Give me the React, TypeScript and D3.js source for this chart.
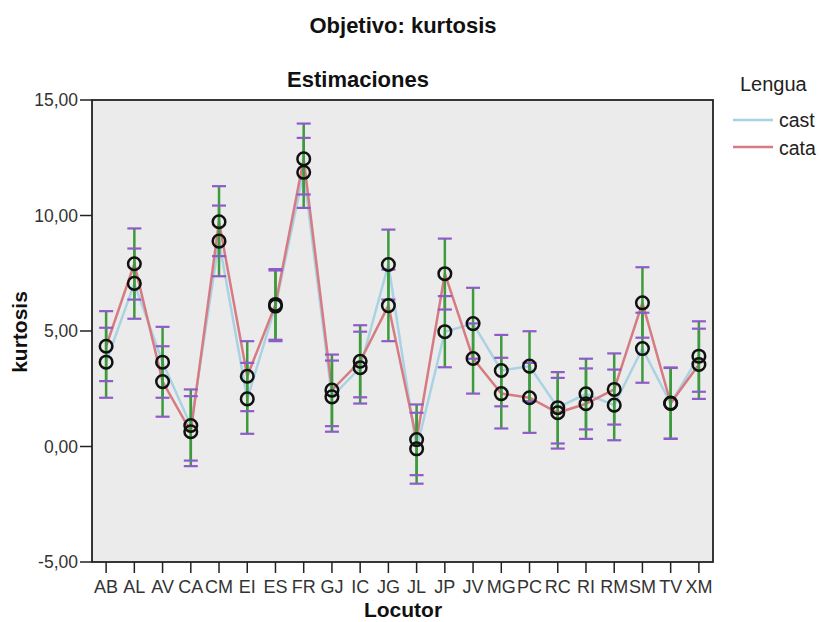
import React from "react";
import * as d3 from "d3";

const categories = ["AB","AL","AV","CA","CM","EI","ES","FR","GJ","IC","JG","JL","JP","JV","MG","PC","RC","RI","RM","SM","TV","XM"];

const castMean = [3.65, 7.06, 3.65, 0.91, 8.89, 2.06, 6.08, 11.87, 2.15, 3.41, 7.88, -0.10, 4.97, 5.32, 3.29, 3.48, 1.68, 2.28, 1.79, 4.24, 1.86, 3.91];
const castLow = [2.11, 5.53, 2.11, -0.61, 7.37, 0.55, 4.56, 10.33, 0.64, 1.86, 6.36, -1.61, 3.43, 3.80, 1.74, 1.96, 0.13, 0.74, 0.27, 2.76, 0.33, 2.37];
const castHigh = [5.14, 8.57, 5.18, 2.47, 10.43, 3.62, 7.62, 13.36, 3.72, 4.97, 9.39, 1.46, 6.51, 6.87, 4.83, 4.99, 3.22, 3.80, 3.33, 5.79, 3.40, 5.42];

const cataMean = [4.34, 7.91, 2.81, 0.64, 9.73, 3.04, 6.15, 12.45, 2.44, 3.69, 6.10, 0.30, 7.48, 3.81, 2.29, 2.11, 1.46, 1.85, 2.47, 6.22, 1.88, 3.55];
const cataLow = [2.83, 6.36, 1.29, -0.85, 8.24, 1.53, 4.62, 10.91, 0.88, 2.13, 4.56, -1.24, 5.93, 2.29, 0.78, 0.59, -0.09, 0.33, 0.95, 4.71, 0.34, 2.06];
const cataHigh = [5.86, 9.44, 4.34, 2.18, 11.27, 4.56, 7.68, 13.98, 3.98, 5.25, 7.66, 1.82, 9.00, 5.33, 3.84, 3.62, 2.97, 3.38, 4.03, 7.76, 3.42, 5.10];

const yTicks = [-5, 0, 5, 10, 15];
const seriesNames = ["cast", "cata"];
const seriesColors = ["#a9d2e4", "#d77b82"];

const FONT = "'Liberation Sans', Arial, sans-serif";

export default function App() {
  const left = 92, right = 713, top = 100, bottom = 562;
  const x = d3.scalePoint<string>().domain(categories).range([left, right]).padding(0.5);
  const y = d3.scaleLinear().domain([-5, 15]).range([bottom, top]);
  const fmt = (v: number) => d3.format(".2f")(v).replace(".", ",").replace("\u2212", "-");

  const series = [
    { name: seriesNames[0], color: seriesColors[0], mean: castMean, low: castLow, high: castHigh },
    { name: seriesNames[1], color: seriesColors[1], mean: cataMean, low: cataLow, high: cataHigh },
  ];

  const line = d3.line<number>()
    .x((_, i) => x(categories[i]) as number)
    .y((d) => y(d));

  const capW = 7;

  return (
    <div style={{ position: "absolute", left: 0, top: 0 }}>
      <svg width={821} height={622} style={{ display: "block", background: "#fff" }} fontFamily={FONT}>
        <text x={403} y={33} textAnchor="middle" fontWeight="bold" fontSize={22} fill="#111">Objetivo: kurtosis</text>
        <text x={358} y={87} textAnchor="middle" fontWeight="bold" fontSize={22} fill="#111">Estimaciones</text>

        <rect x={left} y={top} width={right - left} height={bottom - top} fill="#ebebeb" />

        {yTicks.map((t) => (
          <g key={t}>
            <line x1={left - 12} x2={left} y1={y(t)} y2={y(t)} stroke="#222" strokeWidth={1.5} />
            <text x={78} y={y(t) + 6} textAnchor="end" fontSize={17.5} fill="#333">{fmt(t)}</text>
          </g>
        ))}
        {categories.map((c) => (
          <g key={c}>
            <line x1={x(c)} x2={x(c)} y1={bottom} y2={bottom + 11} stroke="#222" strokeWidth={1.5} />
            <text x={x(c)} y={593} textAnchor="middle" fontSize={18} fill="#333">{c}</text>
          </g>
        ))}

        {series.map((s) => (
          <path key={s.name} d={line(s.mean) || ""} fill="none" stroke={s.color} strokeWidth={2.5} />
        ))}

        {series.map((s) => (
          <g key={s.name + "eb"}>
            {categories.map((c, i) => {
              const cx = x(c) as number;
              return (
                <line key={c} x1={cx} x2={cx} y1={y(s.low[i])} y2={y(s.high[i])} stroke="#3d9a3d" strokeWidth={2.5} />
              );
            })}
          </g>
        ))}
        {series.map((s) => (
          <g key={s.name + "cap"}>
            {categories.map((c, i) => {
              const cx = x(c) as number;
              return (
                <g key={c}>
                  <line x1={cx - capW} x2={cx + capW} y1={y(s.low[i])} y2={y(s.low[i])} stroke="#8e5cc8" strokeWidth={2.2} />
                  <line x1={cx - capW} x2={cx + capW} y1={y(s.high[i])} y2={y(s.high[i])} stroke="#8e5cc8" strokeWidth={2.2} />
                </g>
              );
            })}
          </g>
        ))}

        {series.map((s) => (
          <g key={s.name + "pt"}>
            {categories.map((c, i) => (
              <circle key={c} cx={x(c)} cy={y(s.mean[i])} r={6.3} fill="none" stroke="#111" strokeWidth={2.5} />
            ))}
          </g>
        ))}

        <rect x={left} y={top} width={right - left} height={bottom - top} fill="none" stroke="#222" strokeWidth={1.8} />

        <text x={19} y={332} transform="rotate(-90 19 332)" textAnchor="middle" fontWeight="bold" fontSize={21} fill="#111" style={{ dominantBaseline: "central" }}>kurtosis</text>
        <text x={403} y={617} textAnchor="middle" fontWeight="bold" fontSize={21} fill="#111">Locutor</text>

        <text x={740} y={91} fontSize={20} fill="#222">Lengua</text>
        {series.map((s, i) => (
          <g key={s.name + "lg"}>
            <line x1={733} x2={773} y1={120 + i * 27} y2={120 + i * 27} stroke={s.color} strokeWidth={2.5} />
            <text x={779} y={127 + i * 27.5} fontSize={19.5} fill="#222">{s.name}</text>
          </g>
        ))}
      </svg>
    </div>
  );
}
